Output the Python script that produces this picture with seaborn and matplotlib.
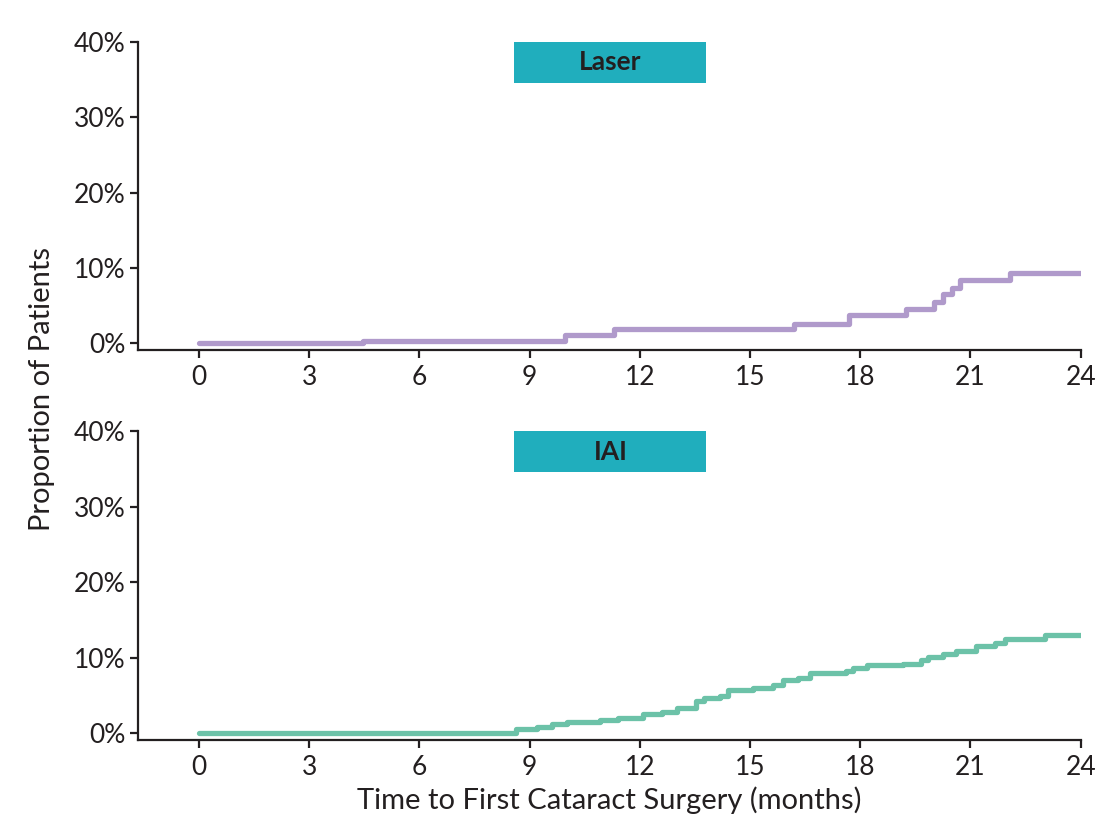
import matplotlib
matplotlib.use("Agg")
import matplotlib.pyplot as plt
import seaborn as sns
import pandas as pd
from matplotlib.patches import Rectangle

# ---- data ----
laser_months = [0, 4.46, 9.97, 11.3, 16.2, 17.7, 19.25, 20.0, 20.25, 20.49, 20.71, 22.07, 24.0]
laser_pct = [0, 0.35, 1.1, 1.9, 2.6, 3.8, 4.6, 5.5, 6.5, 7.4, 8.4, 9.3, 9.3]

iai_months = [0, 8.62, 9.19, 9.6, 10.02, 10.91, 11.41, 12.09, 12.59, 13.0, 13.54, 13.75,
              14.18, 14.4, 15.08, 15.63, 15.9, 16.31, 16.63, 17.62, 17.8, 18.17, 19.16,
              19.66, 19.85, 20.25, 20.62, 21.16, 21.66, 21.93, 23.02, 24.0]
iai_pct = [0, 0.5, 0.84, 1.15, 1.5, 1.68, 1.95, 2.57, 2.83, 3.28, 4.25, 4.6,
           4.9, 5.67, 5.95, 6.4, 7.04, 7.35, 7.92, 8.23, 8.67, 8.99, 9.2,
           9.65, 10.13, 10.45, 10.89, 11.55, 11.99, 12.52, 12.97, 12.97]

panel_titles = ["Laser", "IAI"]
x_ticks = [0, 3, 6, 9, 12, 15, 18, 21, 24]
y_ticks = [0, 10, 20, 30, 40]
y_tick_labels = ["0%", "10%", "20%", "30%", "40%"]
x_label = "Time to First Cataract Surgery (months)"
y_label = "Proportion of Patients"

line_colors = ["#B09ACB", "#6CC2A8"]
box_color = "#20AEBD"
ink = "#231F20"

sns.set_theme(style="white")
plt.rcParams["font.family"] = ["Lato", "DejaVu Sans"]

fig = plt.figure(figsize=(10.96, 8.18), dpi=100)
L, R = 0.126, 0.986
ax_top = fig.add_axes([L, 0.572, R - L, 0.949 - 0.572])
ax_bot = fig.add_axes([L, 0.0954, R - L, 0.473 - 0.0954])

datasets = [(laser_months, laser_pct), (iai_months, iai_pct)]
for ax, (xs, ys), color, title in zip([ax_top, ax_bot], datasets, line_colors, panel_titles):
    df = pd.DataFrame({"month": xs, "pct": ys})
    sns.lineplot(data=df, x="month", y="pct", ax=ax, color=color, linewidth=3.8,
                 drawstyle="steps-post", sort=True, estimator=None)
    ax.set_xlim(-1.66, 24)
    ax.set_ylim(-0.9, 40)
    ax.set_xticks(x_ticks)
    ax.set_xticklabels([str(t) for t in x_ticks])
    ax.set_yticks(y_ticks)
    ax.set_yticklabels(y_tick_labels)
    ax.set_xlabel("")
    ax.set_ylabel("")
    for s in ["top", "right"]:
        ax.spines[s].set_visible(False)
    for s in ["left", "bottom"]:
        ax.spines[s].set_color(ink)
        ax.spines[s].set_linewidth(1.6)
    ax.tick_params(axis="both", direction="out", length=6, width=1.6, color=ink,
                   labelsize=19, labelcolor=ink, left=True, bottom=True, pad=3)
    ax.tick_params(axis="x", pad=5)
    ax.grid(False)
    # header box
    ax.add_patch(Rectangle((0.399, 0.867), 0.204, 0.133, transform=ax.transAxes,
                           facecolor=box_color, edgecolor="none", clip_on=False, zorder=5))
    ax.text(0.501, 0.933, title, transform=ax.transAxes, ha="center", va="center",
            fontsize=19, fontweight="bold", color=ink, zorder=6)

fig.text(0.038, 0.525, y_label, rotation=90, ha="center", va="center",
         fontsize=21, color=ink)
fig.text(0.556, 0.022, x_label, ha="center", va="center", fontsize=21, color=ink)

fig.savefig("out.png", dpi=100, facecolor="white")
